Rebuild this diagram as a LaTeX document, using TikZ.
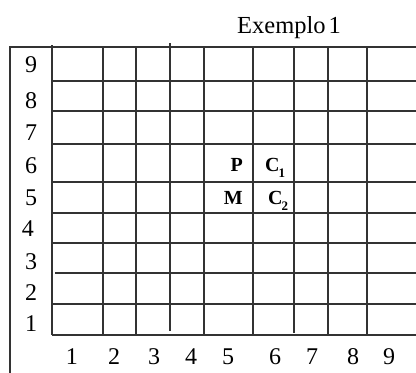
\documentclass[tikz,border=0pt]{standalone}
\usepackage{fontspec}
\setmainfont{Liberation Serif}
\newcommand{\subnum}[1]{\raisebox{-6.5pt}{\fontsize{13}{13}\selectfont\bfseries #1}}
\begin{document}
\begin{tikzpicture}[x=1pt,y=-1pt,
  gridline/.style={line width=1.1pt,draw=black!80},
  lab/.style={inner sep=0pt,font=\fontsize{24}{24}\selectfont},
  blab/.style={inner sep=0pt,font=\fontsize{20}{20}\selectfont\bfseries},
  title/.style={inner sep=0pt,font=\fontsize{24.5}{24.5}\selectfont}]
\useasboundingbox (0,0) rectangle (416,373);
% outer frame
\draw[gridline] (10,373) -- (10,47) -- (416,47);
% horizontal grid lines
\foreach \y in {81,111,144,182,213,243,304,335}
  \draw[gridline] (52,\y) -- (416,\y);
\draw[gridline] (55,273) -- (416,273);
% vertical grid lines
\draw[gridline] (52,45) -- (52,335);
\foreach \x in {103,136,204,253,328,367}
  \draw[gridline] (\x,47) -- (\x,335);
\draw[gridline] (170,43) -- (170,331);
\draw[gridline] (294,47) -- (294,333);
% title
\node[title] (t) at (289,28) {Exemplo\kern0.12em 1};
% row labels
\node[lab] (r9) at (31,65) {9};
\node[lab] (r8) at (31,101) {8};
\node[lab] (r7) at (31,133) {7};
\node[lab] (r6) at (31,166) {6};
\node[lab] (r5) at (31,198) {5};
\node[lab] (r4) at (28,229) {4};
\node[lab] (r3) at (31,262) {3};
\node[lab] (r2) at (31,293) {2};
\node[lab] (r1) at (31,324) {1};
% column labels
\node[lab] (c1) at (72,357) {1};
\node[lab] (c2) at (114,357) {2};
\node[lab] (c3) at (154,357) {3};
\node[lab] (c4) at (191,357) {4};
\node[lab] (c5) at (228,357) {5};
\node[lab] (c6) at (275,357) {6};
\node[lab] (c7) at (312,357) {7};
\node[lab] (c8) at (353,357) {8};
\node[lab] (c9) at (389,357) {9};
% cell labels
\node[blab,anchor=base east] (p) at (243,171) {P};
\node[blab,anchor=base east] (m) at (243,204) {M};
\node[blab,anchor=base west] (ca) at (265,171) {C\kern-0.05em\subnum{1}};
\node[blab,anchor=base west] (cb) at (268,204) {C\kern-0.05em\subnum{2}};
\end{tikzpicture}
\end{document}
